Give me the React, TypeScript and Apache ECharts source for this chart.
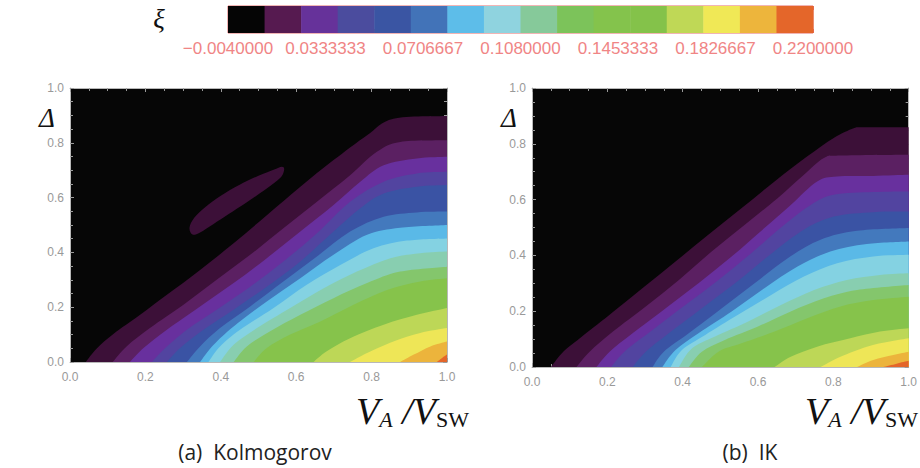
import React, { useEffect, useRef } from "react";
import * as echarts from "echarts";

// ---------- data ----------
const axisValues = [0, 0.2, 0.4, 0.6, 0.8, 1.0];

const colorbarEdges = [-0.004, 0.01, 0.024, 0.038, 0.052, 0.066, 0.08, 0.094, 0.108, 0.122, 0.136, 0.15, 0.164, 0.178, 0.192, 0.206, 0.22];
const colorbarColors = ["#050505", "#561a50", "#66329a", "#4b4c9e", "#3a55a3", "#4273b8", "#5dbde9", "#8fd3df", "#86c99a", "#7cc35a", "#84c34c", "#84c24a", "#bfd856", "#f0e856", "#edb53c", "#e4662a"];
const colorbarLabels = [-0.004, 0.0333333, 0.0706667, 0.108, 0.1453333, 0.1826667, 0.22];
const colorbarTicks = [-0.004, 0.0146667, 0.0333333, 0.052, 0.0706667, 0.0893333, 0.108, 0.1266667, 0.1453333, 0.164, 0.1826667, 0.2013333, 0.22];

const bandColors = ["#060606", "#3c1038", "#5b2062", "#68309e", "#5244a0", "#3a53a4", "#4379bd", "#5ab9e7", "#84d2e2", "#88ceb0", "#84c66c", "#86c34b", "#bdd757", "#eee657", "#ecb43c", "#e4662a"];

// contour boundaries (V_A/V_SW, Δ): band k+1 lies below/right of boundary k
const kolmogorovBoundaries: number[][][] = [
  [[0.042, 0], [0.071, 0.049], [0.115, 0.102], [0.186, 0.172], [0.257, 0.245], [0.345, 0.336], [0.434, 0.433], [0.522, 0.536], [0.611, 0.64], [0.699, 0.737], [0.788, 0.828], [0.858, 0.888], [1, 0.898]],
  [[0.113, 0], [0.15, 0.057], [0.212, 0.124], [0.301, 0.209], [0.389, 0.3], [0.478, 0.391], [0.566, 0.488], [0.655, 0.585], [0.743, 0.682], [0.814, 0.767], [0.876, 0.803], [1, 0.809]],
  [[0.159, 0], [0.195, 0.051], [0.257, 0.118], [0.345, 0.203], [0.434, 0.288], [0.522, 0.379], [0.611, 0.476], [0.699, 0.573], [0.77, 0.658], [0.832, 0.718], [0.92, 0.743], [1, 0.749]],
  [[0.217, 0], [0.248, 0.045], [0.31, 0.118], [0.389, 0.191], [0.478, 0.275], [0.566, 0.367], [0.655, 0.47], [0.743, 0.585], [0.832, 0.658], [0.92, 0.688], [1, 0.694]],
  [[0.257, 0], [0.292, 0.051], [0.354, 0.118], [0.434, 0.191], [0.522, 0.275], [0.611, 0.367], [0.699, 0.476], [0.77, 0.561], [0.832, 0.615], [0.92, 0.64], [1, 0.646]],
  [[0.31, 0], [0.345, 0.057], [0.398, 0.124], [0.478, 0.203], [0.566, 0.294], [0.655, 0.385], [0.743, 0.476], [0.832, 0.53], [0.92, 0.546], [1, 0.549]],
  [[0.345, 0], [0.381, 0.063], [0.434, 0.13], [0.522, 0.221], [0.611, 0.306], [0.699, 0.391], [0.788, 0.464], [0.876, 0.49], [1, 0.5]],
  [[0.367, 0], [0.398, 0.057], [0.451, 0.118], [0.54, 0.197], [0.628, 0.282], [0.717, 0.354], [0.805, 0.415], [0.894, 0.443], [1, 0.451]],
  [[0.398, 0], [0.434, 0.063], [0.496, 0.124], [0.584, 0.197], [0.673, 0.269], [0.761, 0.33], [0.85, 0.379], [0.929, 0.397], [1, 0.403]],
  [[0.434, 0], [0.469, 0.057], [0.531, 0.112], [0.611, 0.172], [0.699, 0.233], [0.788, 0.288], [0.876, 0.33], [1, 0.348]],
  [[0.487, 0], [0.522, 0.051], [0.584, 0.1], [0.664, 0.148], [0.752, 0.209], [0.841, 0.263], [0.929, 0.294], [1, 0.306]],
  [[0.646, 0], [0.681, 0.039], [0.743, 0.087], [0.832, 0.136], [0.92, 0.172], [1, 0.197]],
  [[0.743, 0], [0.788, 0.033], [0.858, 0.075], [0.929, 0.106], [1, 0.124]],
  [[0.876, 0], [0.912, 0.027], [0.956, 0.057], [1, 0.075]],
  [[0.973, 0], [0.987, 0.015], [1, 0.027]],
];

const kolmogorovIsland: number[][] = [
  [0.317, 0.49], [0.33, 0.527], [0.36, 0.567], [0.4, 0.607], [0.45, 0.647], [0.5, 0.68], [0.54, 0.702], [0.562, 0.713],
  [0.568, 0.702], [0.558, 0.672], [0.52, 0.631], [0.47, 0.584], [0.42, 0.539], [0.38, 0.503], [0.345, 0.473], [0.325, 0.465],
];

const ikBoundaries: number[][][] = [
  [[0.05, 0], [0.083, 0.055], [0.127, 0.103], [0.206, 0.187], [0.293, 0.282], [0.381, 0.378], [0.468, 0.474], [0.556, 0.569], [0.644, 0.665], [0.731, 0.755], [0.801, 0.821], [0.854, 0.856], [0.88, 0.859], [1, 0.859]],
  [[0.118, 0], [0.153, 0.055], [0.215, 0.127], [0.302, 0.217], [0.39, 0.312], [0.477, 0.414], [0.565, 0.51], [0.652, 0.605], [0.722, 0.689], [0.775, 0.749], [0.819, 0.758], [1, 0.761]],
  [[0.171, 0], [0.206, 0.055], [0.267, 0.121], [0.355, 0.211], [0.442, 0.3], [0.53, 0.396], [0.617, 0.498], [0.687, 0.581], [0.757, 0.665], [0.81, 0.683], [0.906, 0.685], [1, 0.689]],
  [[0.21, 0], [0.25, 0.061], [0.32, 0.133], [0.407, 0.222], [0.495, 0.312], [0.582, 0.408], [0.67, 0.51], [0.74, 0.581], [0.801, 0.617], [0.906, 0.627], [1, 0.629]],
  [[0.267, 0], [0.302, 0.055], [0.363, 0.121], [0.451, 0.211], [0.539, 0.3], [0.626, 0.396], [0.714, 0.486], [0.801, 0.539], [0.906, 0.555], [1, 0.557]],
  [[0.32, 0], [0.35, 0.055], [0.416, 0.121], [0.504, 0.211], [0.591, 0.3], [0.679, 0.39], [0.766, 0.456], [0.863, 0.488], [1, 0.498]],
  [[0.346, 0], [0.381, 0.061], [0.442, 0.121], [0.53, 0.199], [0.617, 0.282], [0.705, 0.36], [0.792, 0.414], [0.889, 0.441], [1, 0.45]],
  [[0.368, 0], [0.398, 0.061], [0.46, 0.115], [0.547, 0.187], [0.635, 0.258], [0.722, 0.324], [0.81, 0.372], [0.906, 0.396], [1, 0.402]],
  [[0.39, 0], [0.425, 0.067], [0.486, 0.109], [0.574, 0.163], [0.661, 0.222], [0.749, 0.276], [0.836, 0.312], [0.924, 0.33], [1, 0.336]],
  [[0.416, 0], [0.451, 0.055], [0.512, 0.097], [0.6, 0.145], [0.687, 0.199], [0.775, 0.246], [0.863, 0.276], [1, 0.294]],
  [[0.451, 0], [0.495, 0.055], [0.556, 0.085], [0.644, 0.127], [0.731, 0.175], [0.819, 0.217], [0.906, 0.24], [1, 0.252]],
  [[0.644, 0], [0.687, 0.037], [0.757, 0.073], [0.845, 0.103], [0.924, 0.127], [1, 0.139]],
  [[0.766, 0], [0.819, 0.037], [0.889, 0.073], [0.95, 0.091], [1, 0.103]],
  [[0.863, 0], [0.906, 0.025], [0.959, 0.043], [1, 0.055]],
  [[0.933, 0], [0.968, 0.012], [1, 0.022]],
];

// ---------- helpers ----------
const FRAME = "#b8b8b8";
const TICK = "#9a9a9a";
const LABEL = "#999999";

function frameX(gridIndex: number, position: "bottom" | "top", labels: boolean) {
  return {
    type: "value", gridIndex, position, min: axisValues[0], max: axisValues[axisValues.length - 1], interval: 0.2,
    axisLine: { show: true, onZero: false, lineStyle: { color: FRAME, width: 1 } },
    axisTick: { show: true, inside: true, length: 4, lineStyle: { color: TICK } },
    minorTick: { show: true, splitNumber: 4, length: 3, lineStyle: { color: TICK } },
    axisLabel: { show: labels, color: LABEL, fontSize: 12, fontFamily: "Liberation Sans", margin: 9, formatter: (v: number) => v.toFixed(1) },
    splitLine: { show: false }, minorSplitLine: { show: false },
  };
}
function frameY(gridIndex: number, position: "left" | "right", labels: boolean) {
  return {
    type: "value", gridIndex, position, min: axisValues[0], max: axisValues[axisValues.length - 1], interval: 0.2,
    axisLine: { show: true, onZero: false, lineStyle: { color: FRAME, width: 1 } },
    axisTick: { show: true, inside: true, length: 4, lineStyle: { color: TICK } },
    minorTick: { show: true, splitNumber: 4, length: 3, lineStyle: { color: TICK } },
    axisLabel: { show: labels, color: LABEL, fontSize: 12, fontFamily: "Liberation Sans", margin: 6, formatter: (v: number) => v.toFixed(1) },
    splitLine: { show: false }, minorSplitLine: { show: false },
  };
}

// Catmull-Rom spline through pixel points -> SVG path commands
function splinePath(p: number[][], closed: boolean): string {
  const n = p.length;
  const get = (i: number) => {
    if (closed) return p[((i % n) + n) % n];
    return p[Math.max(0, Math.min(n - 1, i))];
  };
  let d = `M${p[0][0]},${p[0][1]}`;
  const segs = closed ? n : n - 1;
  for (let i = 0; i < segs; i++) {
    const p0 = get(i - 1), p1 = get(i), p2 = get(i + 1), p3 = get(i + 2);
    const c1x = p1[0] + (p2[0] - p0[0]) / 6, c1y = p1[1] + (p2[1] - p0[1]) / 6;
    const c2x = p2[0] - (p3[0] - p1[0]) / 6, c2y = p2[1] - (p3[1] - p1[1]) / 6;
    d += ` C${c1x},${c1y} ${c2x},${c2y} ${p2[0]},${p2[1]}`;
  }
  return d;
}

function bandSeries(boundaries: number[][][], xi: number, yi: number) {
  return {
    type: "custom", xAxisIndex: xi, yAxisIndex: yi, silent: true, z: 2,
    data: boundaries.map((_, i) => [i, 0]),
    renderItem: (params: any, api: any) => {
      const curve = boundaries[params.dataIndex];
      const pts = curve.map((p) => api.coord(p));
      const corner = api.coord([1, 0]);
      const d = splinePath(pts, false) + ` L${corner[0]},${corner[1]} Z`;
      return { type: "path", shape: { pathData: d }, style: { fill: bandColors[params.dataIndex + 1] } };
    },
  };
}

function islandSeries(points: number[][], xi: number, yi: number) {
  return {
    type: "custom", xAxisIndex: xi, yAxisIndex: yi, silent: true, z: 3,
    data: [[0, 0]],
    renderItem: (_params: any, api: any) => ({
      type: "path",
      shape: { pathData: splinePath(points.map((p) => api.coord(p)), true) + " Z" },
      style: { fill: bandColors[1] },
    }),
  };
}

const serif = "'Liberation Serif', 'DejaVu Serif', serif";
const sans = "'Open Sans', 'Noto Sans', sans-serif";

function axisTitle(x: number, y: number) {
  return {
    type: "text", x, y,
    style: {
      text: "{v|V}{s|A}{v| /V}{u|SW}",
      align: "right", verticalAlign: "middle",
      rich: {
        v: { fontFamily: serif, fontStyle: "italic", fontSize: 38, fill: "#111", verticalAlign: "bottom", lineHeight: 40 },
        s: { fontFamily: serif, fontStyle: "italic", fontSize: 22, fill: "#111", verticalAlign: "bottom", lineHeight: 14 },
        u: { fontFamily: serif, fontSize: 22, fill: "#111", verticalAlign: "bottom", lineHeight: 14 },
      },
    },
  };
}

export default function App() {
  const ref = useRef<HTMLDivElement>(null);
  useEffect(() => {
    if (!ref.current) return;
    const chart = echarts.init(ref.current, undefined, { renderer: "svg" });
    const option: any = {
      animation: false,
      backgroundColor: "#ffffff",
      grid: [
        { left: 70, top: 88, width: 377, height: 274, show: true, backgroundColor: bandColors[0], borderWidth: 0 },
        { left: 532, top: 88, width: 380, height: 279, show: true, backgroundColor: bandColors[0], borderWidth: 0 },
        { left: 228, top: 6, width: 585, height: 27, show: true, backgroundColor: "transparent", borderColor: "#e46a6a", borderWidth: 1 },
      ],
      xAxis: [
        frameX(0, "bottom", true),
        frameX(0, "top", false),
        frameX(1, "bottom", true),
        frameX(1, "top", false),
        {
          type: "value", gridIndex: 2, position: "bottom", min: colorbarEdges[0], max: colorbarEdges[colorbarEdges.length - 1],
          axisLine: { show: false },
          axisTick: { show: true, inside: true, length: 4, customValues: colorbarTicks, lineStyle: { color: "#e46a6a" } },
          axisLabel: {
            show: true, customValues: colorbarLabels, color: "#f08585", fontSize: 17, fontFamily: "Liberation Sans", margin: 7,
            hideOverlap: false, interval: 0, showMinLabel: true, showMaxLabel: true,
            formatter: (v: number) => (v < 0 ? "\u2212" + Math.abs(v).toFixed(7) : v.toFixed(7)),
          },
          splitLine: { show: false },
        },
        {
          type: "value", gridIndex: 2, position: "top", min: colorbarEdges[0], max: colorbarEdges[colorbarEdges.length - 1],
          axisLine: { show: false },
          axisTick: { show: true, inside: true, length: 4, customValues: colorbarTicks, lineStyle: { color: "#e46a6a" } },
          axisLabel: { show: false },
          splitLine: { show: false },
        },
      ],
      yAxis: [
        frameY(0, "left", true),
        frameY(0, "right", false),
        frameY(1, "left", true),
        frameY(1, "right", false),
        { type: "value", gridIndex: 2, min: 0, max: 1, show: false },
      ],
      series: [
        bandSeries(kolmogorovBoundaries, 0, 0),
        islandSeries(kolmogorovIsland, 0, 0),
        bandSeries(ikBoundaries, 2, 2),
        {
          type: "custom", xAxisIndex: 4, yAxisIndex: 4, silent: true,
          data: colorbarColors.map((_, i) => [i, 0]),
          renderItem: (params: any, api: any) => {
            const i = params.dataIndex;
            const a = api.coord([colorbarEdges[i], 1]);
            const b = api.coord([colorbarEdges[i + 1], 0]);
            return { type: "rect", shape: { x: a[0], y: a[1], width: b[0] - a[0] + 0.5, height: b[1] - a[1] }, style: { fill: colorbarColors[i] } };
          },
        },
      ],
      graphic: [
        { type: "text", x: 159, y: 19, style: { text: "ξ", fontFamily: serif, fontStyle: "italic", fontSize: 27, fill: "#111", align: "center", verticalAlign: "middle" } },
        { type: "text", x: 47, y: 118, style: { text: "Δ", fontFamily: serif, fontStyle: "italic", fontSize: 27, fill: "#111", align: "center", verticalAlign: "middle" } },
        { type: "text", x: 509, y: 118, style: { text: "Δ", fontFamily: serif, fontStyle: "italic", fontSize: 27, fill: "#111", align: "center", verticalAlign: "middle" } },
        axisTitle(469, 410),
        axisTitle(918, 410),
        { type: "text", x: 255, y: 452, style: { text: "(a)  Kolmogorov", fontFamily: sans, fontSize: 21, fill: "#222", align: "center", verticalAlign: "middle" } },
        { type: "text", x: 750, y: 452, style: { text: "(b)  IK", fontFamily: sans, fontSize: 21, fill: "#222", align: "center", verticalAlign: "middle" } },
      ],
    };
    chart.setOption(option);
    return () => chart.dispose();
  }, []);
  return <div ref={ref} style={{ position: "absolute", left: 0, top: 0, width: 920, height: 468 }} />;
}
